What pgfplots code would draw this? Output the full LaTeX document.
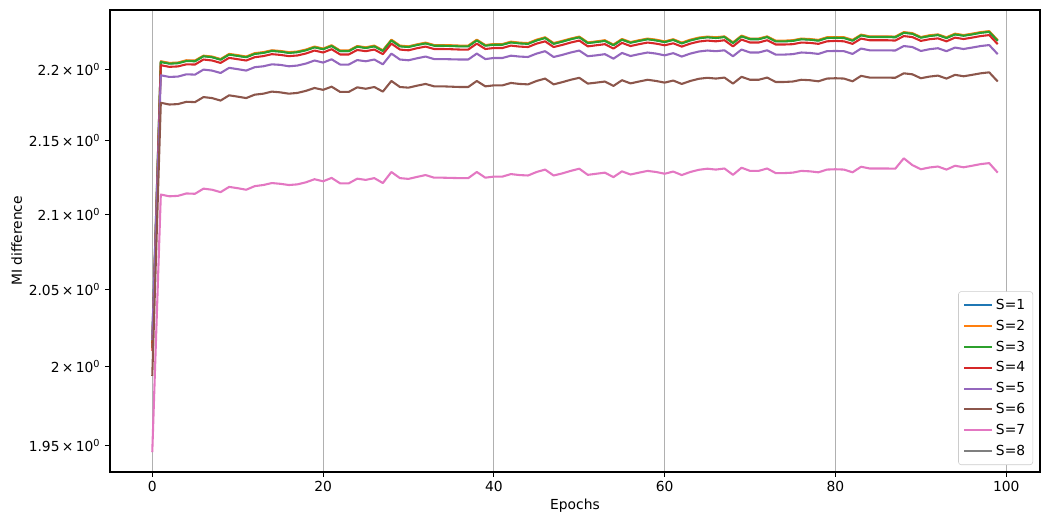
\documentclass[border=0pt]{standalone}
\usepackage{pgfplots}
\pgfplotsset{compat=1.18}
\usepackage{pgfplotstable}
\usepackage{fontspec}
\setmainfont{DejaVu Sans}
\definecolor{c0}{HTML}{1F77B4}
\definecolor{c1}{HTML}{FF7F0E}
\definecolor{c2}{HTML}{2CA02C}
\definecolor{c3}{HTML}{D62728}
\definecolor{c4}{HTML}{9467BD}
\definecolor{c5}{HTML}{8C564B}
\definecolor{c6}{HTML}{E377C2}
\definecolor{c7}{HTML}{7F7F7F}
\definecolor{gridc}{HTML}{B0B0B0}
\pgfplotstableread{
e s1 s2 s3 s4 s5 s6 s7
0 2.0180 2.0150 2.0120 2.0100 2.0170 1.9940 1.9460
1 2.2053 2.2056 2.2051 2.2028 2.1957 2.1764 2.1133
2 2.2041 2.2044 2.2039 2.2016 2.1945 2.1752 2.1121
3 2.2044 2.2047 2.2042 2.2019 2.1948 2.1755 2.1124
4 2.2060 2.2063 2.2058 2.2035 2.1964 2.1771 2.1140
5 2.2058 2.2061 2.2056 2.2033 2.1962 2.1769 2.1138
6 2.2093 2.2096 2.2091 2.2068 2.1997 2.1804 2.1173
7 2.2086 2.2089 2.2084 2.2061 2.1990 2.1797 2.1166
8 2.2069 2.2072 2.2067 2.2044 2.1973 2.1780 2.1149
9 2.2105 2.2108 2.2103 2.2080 2.2009 2.1816 2.1185
10 2.2096 2.2099 2.2094 2.2071 2.2000 2.1807 2.1176
11 2.2086 2.2089 2.2084 2.2061 2.1990 2.1797 2.1166
12 2.2110 2.2113 2.2108 2.2085 2.2014 2.1821 2.1190
13 2.2117 2.2120 2.2115 2.2092 2.2021 2.1828 2.1197
14 2.2131 2.2134 2.2129 2.2106 2.2035 2.1842 2.1211
15 2.2126 2.2129 2.2124 2.2101 2.2030 2.1837 2.1206
16 2.2117 2.2120 2.2115 2.2092 2.2021 2.1828 2.1197
17 2.2122 2.2125 2.2120 2.2097 2.2026 2.1833 2.1202
18 2.2136 2.2139 2.2134 2.2111 2.2040 2.1847 2.1216
19 2.2157 2.2160 2.2155 2.2132 2.2061 2.1868 2.1237
20 2.2143 2.2146 2.2141 2.2118 2.2047 2.1854 2.1223
21 2.2166 2.2169 2.2164 2.2141 2.2070 2.1877 2.1246
22 2.2129 2.2132 2.2127 2.2104 2.2033 2.1840 2.1209
23 2.2129 2.2132 2.2127 2.2104 2.2033 2.1840 2.1209
24 2.2161 2.2164 2.2159 2.2136 2.2065 2.1872 2.1241
25 2.2152 2.2155 2.2150 2.2127 2.2056 2.1863 2.1232
26 2.2164 2.2167 2.2162 2.2139 2.2068 2.1875 2.1244
27 2.2131 2.2134 2.2129 2.2106 2.2035 2.1842 2.1211
28 2.2206 2.2209 2.2204 2.2181 2.2110 2.1917 2.1286
29 2.2164 2.2167 2.2162 2.2139 2.2068 2.1875 2.1244
30 2.2159 2.2162 2.2157 2.2134 2.2063 2.1870 2.1239
31 2.2173 2.2176 2.2171 2.2148 2.2077 2.1884 2.1253
32 2.2185 2.2188 2.2183 2.2160 2.2089 2.1896 2.1265
33 2.2168 2.2171 2.2166 2.2143 2.2072 2.1879 2.1248
34 2.2168 2.2171 2.2166 2.2143 2.2072 2.1879 2.1248
35 2.2166 2.2169 2.2164 2.2141 2.2070 2.1877 2.1246
36 2.2164 2.2167 2.2162 2.2139 2.2068 2.1875 2.1244
37 2.2164 2.2167 2.2162 2.2139 2.2068 2.1875 2.1244
38 2.2206 2.2209 2.2204 2.2181 2.2110 2.1917 2.1286
39 2.2168 2.2171 2.2166 2.2143 2.2072 2.1879 2.1248
40 2.2175 2.2178 2.2173 2.2150 2.2079 2.1886 2.1255
41 2.2175 2.2178 2.2173 2.2150 2.2079 2.1886 2.1255
42 2.2192 2.2195 2.2190 2.2167 2.2096 2.1903 2.1272
43 2.2185 2.2188 2.2183 2.2160 2.2089 2.1896 2.1265
44 2.2182 2.2185 2.2180 2.2157 2.2086 2.1893 2.1262
45 2.2206 2.2209 2.2204 2.2181 2.2110 2.1917 2.1286
46 2.2223 2.2226 2.2221 2.2198 2.2127 2.1934 2.1303
47 2.2182 2.2185 2.2180 2.2157 2.2086 2.1893 2.1262
48 2.2197 2.2200 2.2195 2.2172 2.2101 2.1908 2.1277
49 2.2214 2.2217 2.2212 2.2189 2.2118 2.1925 2.1294
50 2.2228 2.2231 2.2226 2.2203 2.2132 2.1939 2.1308
51 2.2187 2.2190 2.2185 2.2162 2.2091 2.1898 2.1267
52 2.2194 2.2197 2.2192 2.2169 2.2098 2.1905 2.1274
53 2.2202 2.2205 2.2200 2.2177 2.2106 2.1913 2.1282
54 2.2171 2.2174 2.2169 2.2146 2.2075 2.1882 2.1251
55 2.2211 2.2214 2.2209 2.2186 2.2115 2.1922 2.1291
56 2.2189 2.2192 2.2187 2.2164 2.2093 2.1900 2.1269
57 2.2202 2.2205 2.2200 2.2177 2.2106 2.1913 2.1282
58 2.2214 2.2217 2.2212 2.2189 2.2118 2.1925 2.1294
59 2.2206 2.2209 2.2204 2.2181 2.2110 2.1917 2.1286
60 2.2194 2.2197 2.2192 2.2169 2.2098 2.1905 2.1274
61 2.2209 2.2212 2.2207 2.2184 2.2113 2.1920 2.1289
62 2.2185 2.2188 2.2183 2.2160 2.2089 2.1896 2.1265
63 2.2206 2.2209 2.2204 2.2181 2.2110 2.1917 2.1286
64 2.2221 2.2224 2.2219 2.2196 2.2125 2.1932 2.1301
65 2.2228 2.2231 2.2226 2.2203 2.2132 2.1939 2.1308
66 2.2223 2.2226 2.2221 2.2198 2.2127 2.1934 2.1303
67 2.2230 2.2233 2.2228 2.2205 2.2134 2.1941 2.1310
68 2.2187 2.2190 2.2185 2.2162 2.2091 2.1898 2.1267
69 2.2235 2.2238 2.2233 2.2210 2.2139 2.1946 2.1315
70 2.2214 2.2217 2.2212 2.2189 2.2118 2.1925 2.1294
71 2.2214 2.2217 2.2212 2.2189 2.2118 2.1925 2.1294
72 2.2230 2.2233 2.2228 2.2205 2.2134 2.1941 2.1310
73 2.2199 2.2202 2.2197 2.2174 2.2103 2.1910 2.1279
74 2.2199 2.2202 2.2197 2.2174 2.2103 2.1910 2.1279
75 2.2202 2.2205 2.2200 2.2177 2.2106 2.1913 2.1282
76 2.2214 2.2217 2.2212 2.2189 2.2118 2.1925 2.1294
77 2.2211 2.2214 2.2209 2.2186 2.2115 2.1922 2.1291
78 2.2204 2.2207 2.2202 2.2179 2.2108 2.1915 2.1284
79 2.2223 2.2226 2.2221 2.2198 2.2127 2.1934 2.1303
80 2.2225 2.2228 2.2223 2.2200 2.2129 2.1936 2.1305
81 2.2223 2.2226 2.2221 2.2198 2.2127 2.1934 2.1303
82 2.2204 2.2207 2.2202 2.2179 2.2108 2.1915 2.1284
83 2.2242 2.2245 2.2240 2.2217 2.2146 2.1953 2.1322
84 2.2230 2.2233 2.2228 2.2205 2.2134 2.1941 2.1310
85 2.2230 2.2233 2.2228 2.2205 2.2134 2.1941 2.1310
86 2.2230 2.2233 2.2228 2.2205 2.2134 2.1941 2.1310
87 2.2228 2.2231 2.2226 2.2203 2.2132 2.1939 2.1308
88 2.2260 2.2263 2.2258 2.2235 2.2164 2.1971 2.1380
89 2.2253 2.2256 2.2251 2.2228 2.2157 2.1964 2.1333
90 2.2225 2.2228 2.2223 2.2200 2.2129 2.1936 2.1305
91 2.2237 2.2240 2.2235 2.2212 2.2141 2.1948 2.1317
92 2.2244 2.2247 2.2242 2.2219 2.2148 2.1955 2.1324
93 2.2223 2.2226 2.2221 2.2198 2.2127 2.1934 2.1303
94 2.2249 2.2252 2.2247 2.2224 2.2153 2.1960 2.1329
95 2.2239 2.2242 2.2237 2.2214 2.2143 2.1950 2.1319
96 2.2249 2.2252 2.2247 2.2224 2.2153 2.1960 2.1329
97 2.2260 2.2263 2.2258 2.2235 2.2164 2.1971 2.1340
98 2.2267 2.2270 2.2265 2.2242 2.2171 2.1978 2.1347
99 2.2202 2.2205 2.2200 2.2177 2.2106 2.1913 2.1282
}\mi
\begin{document}
\begin{tikzpicture}
\path[use as bounding box] (0,0) rectangle (756bp,378bp);
\begin{axis}[
  at={(79.2bp,38.16bp)}, anchor=south west,
  scale only axis, width=669.6bp, height=332.6bp,
  ymode=log,
  xmin=-4.95, xmax=103.95, ymin=1.9333, ymax=2.2421,
  xtick={0,20,40,60,80,100},
  ytick={1.95,2,2.05,2.1,2.15,2.2},
  yticklabels={1.95\,×\,10\textsuperscript{0},2\,×\,10\textsuperscript{0},2.05\,×\,10\textsuperscript{0},2.1\,×\,10\textsuperscript{0},2.15\,×\,10\textsuperscript{0},2.2\,×\,10\textsuperscript{0}},
  yminorticks=false, xminorticks=false,
  log basis y=10,
  /pgf/number format/assume math mode=true,
  tick label style={font=\fontsize{10}{12}\selectfont},
  tick align=outside, tick pos=left,
  major tick length=3.5bp,
  every tick/.style={black, line width=0.8bp},
  axis line style={line width=0.8bp},
  xmajorgrids, major grid style={gridc, line width=0.8bp},
  xlabel={Epochs}, ylabel={MI difference},
  label style={font=\fontsize{10}{12}\selectfont},
  xlabel style={yshift=2bp},
  ylabel style={yshift=-2bp},
  legend cell align=left,
  legend style={at={(1,0)}, anchor=south east, xshift=-5bp, yshift=5bp,
    draw=black!20, rounded corners=2bp, font=\fontsize{10}{12}\selectfont,
    row sep=2.1bp, inner sep=3.5bp},
  legend image code/.code={\draw[#1, line width=1.5bp] (0bp,0bp) -- (20bp,0bp);},
  every axis plot/.append style={line width=1.5bp, line join=round},
]
\addplot[c0] table[x=e, y=s1] {\mi};
\addlegendentry{S=1}
\addplot[c1] table[x=e, y=s2] {\mi};
\addlegendentry{S=2}
\addplot[c2] table[x=e, y=s3] {\mi};
\addlegendentry{S=3}
\addplot[c3] table[x=e, y=s4] {\mi};
\addlegendentry{S=4}
\addplot[c4] table[x=e, y=s5] {\mi};
\addlegendentry{S=5}
\addplot[c5] table[x=e, y=s6] {\mi};
\addlegendentry{S=6}
\addplot[c6] table[x=e, y=s7] {\mi};
\addlegendentry{S=7}
\addlegendimage{c7}
\addlegendentry{S=8}
\end{axis}
\end{tikzpicture}
\end{document}
